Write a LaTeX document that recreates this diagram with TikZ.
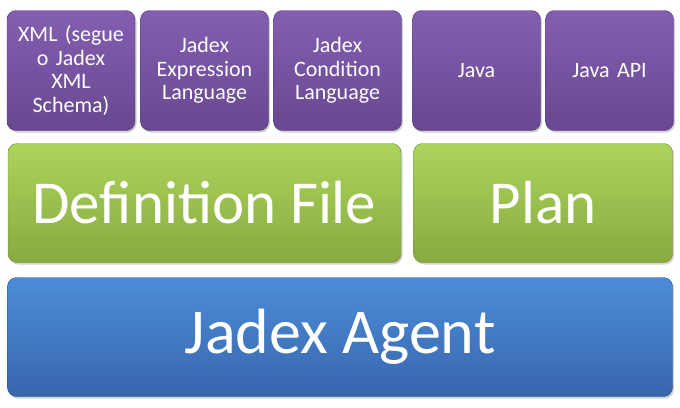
\documentclass[tikz,border=0pt]{standalone}
\usepackage{fontspec}
\setmainfont{Carlito}
\usepackage{tikz}
\usetikzlibrary{shapes,shadows,positioning}
\definecolor{lilactop}{RGB}{132,94,176}
\definecolor{lilacbot}{RGB}{104,72,144}
\definecolor{leaftop}{RGB}{172,212,92}
\definecolor{leafbot}{RGB}{136,170,64}
\definecolor{oceantop}{RGB}{76,140,216}
\definecolor{oceanbot}{RGB}{56,102,174}

\begin{document}
\begin{tikzpicture}[x=1pt, y=-1pt,
    block/.style={rectangle, rounded corners=9pt, text=white, align=center, inner sep=2pt,
        drop shadow={shadow xshift=1.5pt, shadow yshift=-2pt, opacity=0.35}},
    lang/.style={block, draw=lilacbot!80!black, top color=lilactop, bottom color=lilacbot,
        minimum width=127pt, minimum height=120pt, text width=124pt,
        font=\fontsize{22}{23.5}\selectfont},
    part/.style={block, draw=leafbot!80!black, top color=leaftop, bottom color=leafbot,
        minimum height=119pt, font=\fontsize{61}{72}\selectfont},
    core/.style={block, draw=oceanbot!80!black, top color=oceantop, bottom color=oceanbot,
        minimum width=665pt, minimum height=119pt, font=\fontsize{64}{76}\selectfont}
]
    \useasboundingbox (0,0) rectangle (680,407);

    \node[lang] (xml) at (71,70.5) {XML (segue\\o Jadex\\XML\\Schema)};
    \node[lang] (expr) at (204.5,70.5) {Jadex\\Expression\\Language};
    \node[lang] (cond) at (337.5,70.5) {Jadex\\Condition\\Language};
    \node[lang] (java) at (476.5,70.5) {Java};
    \node[lang] (api) at (609.5,70.5) {Java API};

    \node[part, minimum width=393pt] (deffile) at (204.5,203) {Definition File};
    \node[part, minimum width=259pt] (plan) at (543,203) {Plan};

    \node[core] (agent) at (340,337) {Jadex Agent};
\end{tikzpicture}
\end{document}
